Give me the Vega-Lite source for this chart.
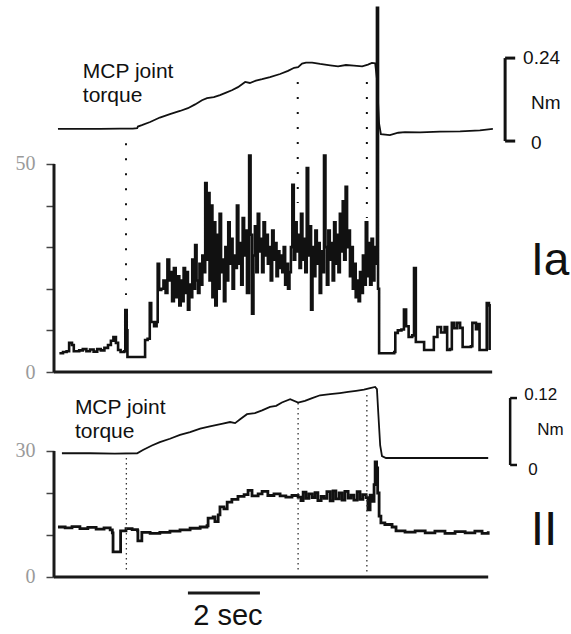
{
  "$schema": "https://vega.github.io/schema/vega-lite/v6.json",
  "padding": {"left": 15, "top": 0, "right": 0, "bottom": 0},
  "bounds": "flush",
  "spacing": 0,
  "config": {
    "view": {"stroke": null},
    "axis": {"domain": false, "grid": false, "tickSize": 8, "tickColor": "#444", "tickWidth": 1.5, "labelFont": "Liberation Serif", "labelFontSize": 20, "labelColor": "#9a9a9a", "labelPadding": 11, "labelFlush": false, "labelOverlap": false, "labelBound": false}
  },
  "datasets": {
    "ia": [
      {"t":0.15,"v":4.5},{"t":0.25,"v":4.8},{"t":0.35,"v":5.0},{"t":0.42,"v":7.0},{"t":0.5,"v":6.5},{"t":0.55,"v":5.0},{"t":0.7,"v":5.2},{"t":0.8,"v":5.5},{"t":0.9,"v":5.0},{"t":1.0,"v":5.4},{"t":1.1,"v":4.9},{"t":1.2,"v":5.5},{"t":1.3,"v":5.2},{"t":1.4,"v":5.8},{"t":1.5,"v":6.5},{"t":1.58,"v":7.5},{"t":1.65,"v":8.4},{"t":1.72,"v":7.0},{"t":1.78,"v":5.3},{"t":1.85,"v":4.8},{"t":1.95,"v":5.0},{"t":1.98,"v":14.9},{"t":2.02,"v":10},{"t":2.04,"v":3.6},{"t":2.5,"v":3.6},{"t":2.53,"v":7.7},{"t":2.6,"v":8.0},{"t":2.66,"v":16.6},{"t":2.7,"v":12},{"t":2.78,"v":11},{"t":2.85,"v":12},{"t":2.88,"v":26},{"t":2.92,"v":19.7},{"t":2.98,"v":20},{"t":3.04,"v":22},{"t":3.1,"v":19},{"t":3.15,"v":27},{"t":3.2,"v":22},{"t":3.24,"v":24},{"t":3.28,"v":17},{"t":3.33,"v":25},{"t":3.38,"v":18},{"t":3.43,"v":23},{"t":3.48,"v":16},{"t":3.52,"v":22},{"t":3.56,"v":17},{"t":3.6,"v":25},{"t":3.64,"v":19},{"t":3.68,"v":24},{"t":3.72,"v":15},{"t":3.76,"v":21},{"t":3.8,"v":18},{"t":3.84,"v":27},{"t":3.88,"v":20},{"t":3.92,"v":30.5},{"t":3.96,"v":22},{"t":4.0,"v":19},{"t":4.04,"v":26},{"t":4.08,"v":21},{"t":4.12,"v":28},{"t":4.16,"v":24},{"t":4.2,"v":45.4},{"t":4.24,"v":27},{"t":4.28,"v":43},{"t":4.32,"v":22},{"t":4.36,"v":40},{"t":4.4,"v":18},{"t":4.44,"v":36},{"t":4.48,"v":16},{"t":4.52,"v":33},{"t":4.56,"v":20},{"t":4.6,"v":38},{"t":4.64,"v":24},{"t":4.68,"v":27},{"t":4.72,"v":17},{"t":4.76,"v":30},{"t":4.8,"v":22},{"t":4.84,"v":36},{"t":4.88,"v":26},{"t":4.92,"v":32},{"t":4.96,"v":20},{"t":5.0,"v":28},{"t":5.04,"v":25},{"t":5.08,"v":40},{"t":5.12,"v":26},{"t":5.16,"v":31},{"t":5.2,"v":21},{"t":5.24,"v":37},{"t":5.28,"v":28},{"t":5.32,"v":34},{"t":5.36,"v":19},{"t":5.42,"v":52},{"t":5.46,"v":33},{"t":5.5,"v":14},{"t":5.54,"v":28},{"t":5.58,"v":35},{"t":5.62,"v":24},{"t":5.66,"v":38},{"t":5.7,"v":29},{"t":5.74,"v":32},{"t":5.78,"v":24},{"t":5.82,"v":36},{"t":5.86,"v":28},{"t":5.9,"v":33},{"t":5.94,"v":26},{"t":5.98,"v":30},{"t":6.02,"v":22},{"t":6.06,"v":34},{"t":6.1,"v":27},{"t":6.14,"v":31},{"t":6.18,"v":23},{"t":6.22,"v":29},{"t":6.26,"v":25},{"t":6.3,"v":28},{"t":6.34,"v":24},{"t":6.38,"v":30},{"t":6.42,"v":21},{"t":6.46,"v":26},{"t":6.5,"v":20},{"t":6.54,"v":24},{"t":6.58,"v":30},{"t":6.62,"v":45},{"t":6.66,"v":27},{"t":6.7,"v":36},{"t":6.74,"v":29},{"t":6.78,"v":33},{"t":6.82,"v":25},{"t":6.86,"v":38},{"t":6.9,"v":27},{"t":6.94,"v":32},{"t":6.98,"v":24},{"t":7.02,"v":49},{"t":7.06,"v":28},{"t":7.1,"v":35},{"t":7.14,"v":15},{"t":7.18,"v":30},{"t":7.22,"v":23},{"t":7.26,"v":34},{"t":7.3,"v":26},{"t":7.34,"v":31},{"t":7.38,"v":19},{"t":7.42,"v":29},{"t":7.46,"v":24},{"t":7.5,"v":52},{"t":7.54,"v":30},{"t":7.58,"v":21},{"t":7.62,"v":34},{"t":7.66,"v":27},{"t":7.7,"v":31},{"t":7.74,"v":22},{"t":7.78,"v":36},{"t":7.82,"v":26},{"t":7.86,"v":33},{"t":7.9,"v":24},{"t":7.94,"v":38},{"t":7.98,"v":29},{"t":8.02,"v":41},{"t":8.06,"v":27},{"t":8.1,"v":44.5},{"t":8.14,"v":30},{"t":8.18,"v":34},{"t":8.22,"v":23},{"t":8.26,"v":30},{"t":8.3,"v":20},{"t":8.34,"v":26},{"t":8.38,"v":18},{"t":8.42,"v":22},{"t":8.46,"v":17},{"t":8.5,"v":24},{"t":8.54,"v":19},{"t":8.58,"v":28},{"t":8.62,"v":21},{"t":8.66,"v":36},{"t":8.7,"v":23},{"t":8.74,"v":31},{"t":8.78,"v":21},{"t":8.82,"v":32},{"t":8.86,"v":22},{"t":8.9,"v":30},{"t":8.94,"v":26},{"t":8.97,"v":87.5},{"t":9.0,"v":20},{"t":9.03,"v":4.5},{"t":9.45,"v":4.8},{"t":9.48,"v":9.4},{"t":9.55,"v":10},{"t":9.65,"v":10.2},{"t":9.72,"v":15},{"t":9.78,"v":11},{"t":9.85,"v":8.4},{"t":9.95,"v":8.8},{"t":10.0,"v":25},{"t":10.05,"v":7.2},{"t":10.2,"v":7.2},{"t":10.28,"v":5.3},{"t":10.5,"v":5.3},{"t":10.55,"v":8.4},{"t":10.65,"v":10.8},{"t":10.75,"v":9.5},{"t":10.85,"v":10.8},{"t":10.92,"v":5.3},{"t":11.0,"v":5.5},{"t":11.05,"v":11.8},{"t":11.12,"v":10.5},{"t":11.2,"v":11.8},{"t":11.28,"v":10.6},{"t":11.35,"v":6},{"t":11.5,"v":6},{"t":11.58,"v":6.2},{"t":11.62,"v":11.8},{"t":11.72,"v":10.3},{"t":11.78,"v":11.5},{"t":11.82,"v":5.3},{"t":11.98,"v":5.3},{"t":12.02,"v":16.6},{"t":12.08,"v":16},{"t":12.1,"v":5.3}
    ],
    "ii": [
      {"t":0.11,"v":11.9},{"t":0.31,"v":11.7},{"t":0.5,"v":12.0},{"t":0.72,"v":11.5},{"t":0.94,"v":11.8},{"t":1.17,"v":11.4},{"t":1.39,"v":11.7},{"t":1.56,"v":11.2},{"t":1.62,"v":10.5},{"t":1.64,"v":6.0},{"t":1.82,"v":6.0},{"t":1.85,"v":11.0},{"t":2.0,"v":11.5},{"t":2.17,"v":11.3},{"t":2.32,"v":11.0},{"t":2.33,"v":8.6},{"t":2.43,"v":8.6},{"t":2.44,"v":10.6},{"t":2.67,"v":10.4},{"t":2.94,"v":10.6},{"t":3.22,"v":10.9},{"t":3.5,"v":11.2},{"t":3.78,"v":11.6},{"t":4.06,"v":11.9},{"t":4.25,"v":12.2},{"t":4.28,"v":14.0},{"t":4.42,"v":14.3},{"t":4.47,"v":13.2},{"t":4.56,"v":14.8},{"t":4.61,"v":16.7},{"t":4.72,"v":16.2},{"t":4.81,"v":17.8},{"t":4.94,"v":18.5},{"t":5.11,"v":19.2},{"t":5.28,"v":19.6},{"t":5.39,"v":20.6},{"t":5.5,"v":19.3},{"t":5.67,"v":19.8},{"t":5.78,"v":20.4},{"t":5.94,"v":19.4},{"t":6.11,"v":19.8},{"t":6.28,"v":19.3},{"t":6.44,"v":19.0},{"t":6.61,"v":19.4},{"t":6.78,"v":19.0},{"t":6.86,"v":18.2},{"t":6.92,"v":20.2},{"t":7.0,"v":18.7},{"t":7.08,"v":19.8},{"t":7.17,"v":18.9},{"t":7.25,"v":20.1},{"t":7.33,"v":18.2},{"t":7.42,"v":19.2},{"t":7.5,"v":18.7},{"t":7.58,"v":20.3},{"t":7.67,"v":18.1},{"t":7.75,"v":20.5},{"t":7.83,"v":18.6},{"t":7.92,"v":20.0},{"t":8.0,"v":18.3},{"t":8.08,"v":20.4},{"t":8.17,"v":18.8},{"t":8.25,"v":19.5},{"t":8.33,"v":18.3},{"t":8.42,"v":20.3},{"t":8.5,"v":18.5},{"t":8.58,"v":19.6},{"t":8.67,"v":18.9},{"t":8.72,"v":16.0},{"t":8.78,"v":19.5},{"t":8.83,"v":18.0},{"t":8.89,"v":22},{"t":8.92,"v":27.4},{"t":8.96,"v":26},{"t":8.99,"v":20},{"t":9.03,"v":14.5},{"t":9.08,"v":12.9},{"t":9.19,"v":12.5},{"t":9.39,"v":11.9},{"t":9.5,"v":11.0},{"t":9.75,"v":10.7},{"t":10.03,"v":11.0},{"t":10.31,"v":10.5},{"t":10.58,"v":10.9},{"t":10.86,"v":10.4},{"t":11.14,"v":10.8},{"t":11.42,"v":10.5},{"t":11.69,"v":10.9},{"t":11.89,"v":10.4},{"t":12.06,"v":10.9}
    ],
    "tq1": [
      {"t":0.11,"v":0.035},{"t":0.72,"v":0.035},{"t":1.28,"v":0.0355},{"t":1.83,"v":0.036},{"t":2.19,"v":0.036},{"t":2.31,"v":0.037},{"t":2.33,"v":0.042},{"t":2.44,"v":0.046},{"t":2.67,"v":0.055},{"t":2.94,"v":0.068},{"t":3.22,"v":0.078},{"t":3.5,"v":0.087},{"t":3.72,"v":0.095},{"t":3.92,"v":0.106},{"t":4.11,"v":0.118},{"t":4.25,"v":0.124},{"t":4.44,"v":0.127},{"t":4.61,"v":0.133},{"t":4.78,"v":0.14},{"t":4.94,"v":0.147},{"t":5.11,"v":0.156},{"t":5.31,"v":0.171},{"t":5.44,"v":0.168},{"t":5.61,"v":0.175},{"t":5.78,"v":0.179},{"t":6.0,"v":0.185},{"t":6.28,"v":0.194},{"t":6.5,"v":0.203},{"t":6.67,"v":0.212},{"t":6.78,"v":0.214},{"t":6.89,"v":0.224},{"t":7.0,"v":0.227},{"t":7.17,"v":0.227},{"t":7.39,"v":0.223},{"t":7.67,"v":0.219},{"t":7.89,"v":0.216},{"t":8.11,"v":0.22},{"t":8.33,"v":0.218},{"t":8.56,"v":0.216},{"t":8.72,"v":0.221},{"t":8.83,"v":0.226},{"t":8.92,"v":0.225},{"t":8.97,"v":0.18},{"t":9.03,"v":0.05},{"t":9.08,"v":0.02},{"t":9.33,"v":0.017},{"t":9.56,"v":0.024},{"t":9.75,"v":0.026},{"t":10.17,"v":0.025},{"t":10.72,"v":0.027},{"t":11.28,"v":0.028},{"t":11.83,"v":0.031},{"t":12.19,"v":0.035}
    ],
    "tq2": [
      {"t":0.22,"v":0.021},{"t":1.0,"v":0.021},{"t":1.69,"v":0.0205},{"t":2.31,"v":0.021},{"t":2.47,"v":0.027},{"t":2.72,"v":0.035},{"t":2.94,"v":0.041},{"t":3.22,"v":0.047},{"t":3.5,"v":0.054},{"t":3.78,"v":0.059},{"t":4.06,"v":0.065},{"t":4.33,"v":0.069},{"t":4.69,"v":0.074},{"t":4.89,"v":0.077},{"t":5.03,"v":0.075},{"t":5.17,"v":0.082},{"t":5.36,"v":0.091},{"t":5.58,"v":0.093},{"t":5.78,"v":0.098},{"t":6.0,"v":0.104},{"t":6.17,"v":0.106},{"t":6.33,"v":0.112},{"t":6.56,"v":0.118},{"t":6.78,"v":0.112},{"t":6.97,"v":0.115},{"t":7.17,"v":0.12},{"t":7.39,"v":0.125},{"t":7.67,"v":0.127},{"t":7.94,"v":0.129},{"t":8.17,"v":0.131},{"t":8.39,"v":0.133},{"t":8.61,"v":0.135},{"t":8.78,"v":0.138},{"t":8.92,"v":0.14},{"t":8.97,"v":0.136},{"t":9.01,"v":0.09},{"t":9.06,"v":0.035},{"t":9.11,"v":0.016},{"t":9.22,"v":0.0125},{"t":10.17,"v":0.0125},{"t":11.28,"v":0.0125},{"t":12.06,"v":0.0125}
    ],
    "frame1": [
      {"t":0,"t2":0,"v":0,"v2":50},
      {"t":0,"t2":12.17,"v":0,"v2":0}
    ],
    "frame2": [
      {"t":0,"t2":0,"v":0,"v2":30},
      {"t":0,"t2":12.06,"v":0,"v2":0},
      {"t":3.72,"t2":5.72,"v":-3.8,"v2":-3.8}
    ],
    "dots1": [
      {"t":2.0,"v":55.0,"v2":18.5},
      {"t":6.77,"v":69.7,"v2":40.6},
      {"t":8.69,"v":69.7,"v2":37.0}
    ],
    "dots2": [
      {"t":2.01,"v":28.3,"v2":1.0},
      {"t":6.78,"v":41.4,"v2":1.2},
      {"t":8.69,"v":43.3,"v2":1.2}
    ],
    "labels1": [
      {"t":0.8,"v":70.6,"label":"MCP joint"},
      {"t":0.8,"v":64.9,"label":"torque"}
    ],
    "labels2": [
      {"t":0.58,"v":38.8,"label":"MCP joint"},
      {"t":0.58,"v":33.2,"label":"torque"}
    ],
    "unit1": [{"t":13.78,"v":26.7,"label":"Ia"}],
    "unit2": [{"t":13.61,"v":11,"label":"II"}],
    "timebar": [{"t":4.83,"v":-11.4,"label":"2 sec"}],
    "bar1": [
      {"t":12.53,"t2":12.53,"v":0,"v2":0.24},
      {"t":12.53,"t2":12.81,"v":0,"v2":0},
      {"t":12.53,"t2":12.81,"v":0.24,"v2":0.24}
    ],
    "bar2": [
      {"t":12.67,"t2":12.67,"v":0,"v2":0.12},
      {"t":12.67,"t2":12.86,"v":0,"v2":0},
      {"t":12.67,"t2":12.86,"v":0.12,"v2":0.12}
    ],
    "barlab1": [
      {"t":13.03,"v":0.24,"label":"0.24"},
      {"t":13.25,"v":0.11,"label":"Nm"},
      {"t":13.25,"v":-0.005,"label":"0"}
    ],
    "barlab2": [
      {"t":13.06,"v":0.1255,"label":"0.12"},
      {"t":13.42,"v":0.063,"label":"Nm"},
      {"t":13.17,"v":-0.009,"label":"0"}
    ]
  },
  "vconcat": [
    {
      "width": 517,
      "height": 372,
      "encoding": {"x": {"field": "t", "type": "quantitative", "scale": {"domain": [0, 14.36], "nice": false, "zero": false}, "axis": null}},
      "layer": [
        {
          "encoding": {"y": {"field": "v", "type": "quantitative", "title": null, "scale": {"domain": [0, 89.4], "nice": false, "zero": false}, "axis": {"values": [0, 10, 20, 30, 40, 50], "labelExpr": "datum.value == 0 || datum.value == 50 ? datum.label : ''"}}},
          "layer": [
            {"data": {"name": "ia"}, "mark": {"type": "line", "color": "#111", "strokeWidth": 2.6, "interpolate": "step-after"}},
            {"data": {"name": "frame1"}, "mark": {"type": "rule", "color": "#1a1a1a", "strokeWidth": 3}, "encoding": {"x2": {"field": "t2"}, "y2": {"field": "v2"}}},
            {"data": {"name": "dots1"}, "mark": {"type": "rule", "color": "#111", "strokeWidth": 2, "strokeDash": [2, 13]}, "encoding": {"y2": {"field": "v2"}}},
            {"data": {"name": "labels1"}, "mark": {"type": "text", "align": "left", "baseline": "alphabetic", "font": "Liberation Sans", "fontSize": 21, "color": "#111"}, "encoding": {"text": {"field": "label"}}},
            {"data": {"name": "unit1"}, "mark": {"type": "text", "align": "center", "baseline": "middle", "font": "Liberation Sans Narrow, Liberation Sans", "fontSize": 46, "color": "#111"}, "encoding": {"text": {"field": "label"}}}
          ]
        },
        {
          "encoding": {"y": {"field": "v", "type": "quantitative", "title": null, "scale": {"domain": [-0.668, 0.408], "nice": false, "zero": false}, "axis": null}},
          "layer": [
            {"data": {"name": "tq1"}, "mark": {"type": "line", "color": "#111", "strokeWidth": 1.8}},
            {"data": {"name": "bar1"}, "mark": {"type": "rule", "color": "#111", "strokeWidth": 3}, "encoding": {"x2": {"field": "t2"}, "y2": {"field": "v2"}}},
            {"data": {"name": "barlab1"}, "mark": {"type": "text", "align": "left", "baseline": "middle", "font": "Liberation Sans", "fontSize": 19, "color": "#111"}, "encoding": {"text": {"field": "label"}}}
          ]
        }
      ],
      "resolve": {"scale": {"y": "independent"}}
    },
    {
      "width": 517,
      "height": 262,
      "encoding": {"x": {"field": "t", "type": "quantitative", "scale": {"domain": [0, 14.36], "nice": false, "zero": false}, "axis": null}},
      "layer": [
        {
          "encoding": {"y": {"field": "v", "type": "quantitative", "title": null, "scale": {"domain": [-13.57, 48.8], "nice": false, "zero": false}, "axis": {"values": [0, 10, 20, 30], "labelExpr": "datum.value == 0 || datum.value == 30 ? datum.label : ''"}}},
          "layer": [
            {"data": {"name": "ii"}, "mark": {"type": "line", "color": "#111", "strokeWidth": 2.8, "interpolate": "step-after"}},
            {"data": {"name": "frame2"}, "mark": {"type": "rule", "color": "#1a1a1a", "strokeWidth": 3}, "encoding": {"x2": {"field": "t2"}, "y2": {"field": "v2"}}},
            {"data": {"name": "dots2"}, "mark": {"type": "rule", "color": "#333", "strokeWidth": 1.3, "strokeDash": [1.5, 3.5]}, "encoding": {"y2": {"field": "v2"}}},
            {"data": {"name": "labels2"}, "mark": {"type": "text", "align": "left", "baseline": "alphabetic", "font": "Liberation Sans", "fontSize": 21, "color": "#111"}, "encoding": {"text": {"field": "label"}}},
            {"data": {"name": "unit2"}, "mark": {"type": "text", "align": "center", "baseline": "middle", "font": "Liberation Sans Narrow, Liberation Sans", "fontSize": 48, "color": "#111"}, "encoding": {"text": {"field": "label"}}},
            {"data": {"name": "timebar"}, "mark": {"type": "text", "align": "center", "baseline": "alphabetic", "font": "Liberation Sans", "fontSize": 29, "color": "#111"}, "encoding": {"text": {"field": "label"}}}
          ]
        },
        {
          "encoding": {"y": {"field": "v", "type": "quantitative", "title": null, "scale": {"domain": [-0.303, 0.1667], "nice": false, "zero": false}, "axis": null}},
          "layer": [
            {"data": {"name": "tq2"}, "mark": {"type": "line", "color": "#111", "strokeWidth": 1.8}},
            {"data": {"name": "bar2"}, "mark": {"type": "rule", "color": "#111", "strokeWidth": 2.5}, "encoding": {"x2": {"field": "t2"}, "y2": {"field": "v2"}}},
            {"data": {"name": "barlab2"}, "mark": {"type": "text", "align": "left", "baseline": "middle", "font": "Liberation Sans", "fontSize": 17, "color": "#111"}, "encoding": {"text": {"field": "label"}}}
          ]
        }
      ],
      "resolve": {"scale": {"y": "independent"}}
    }
  ]
}
